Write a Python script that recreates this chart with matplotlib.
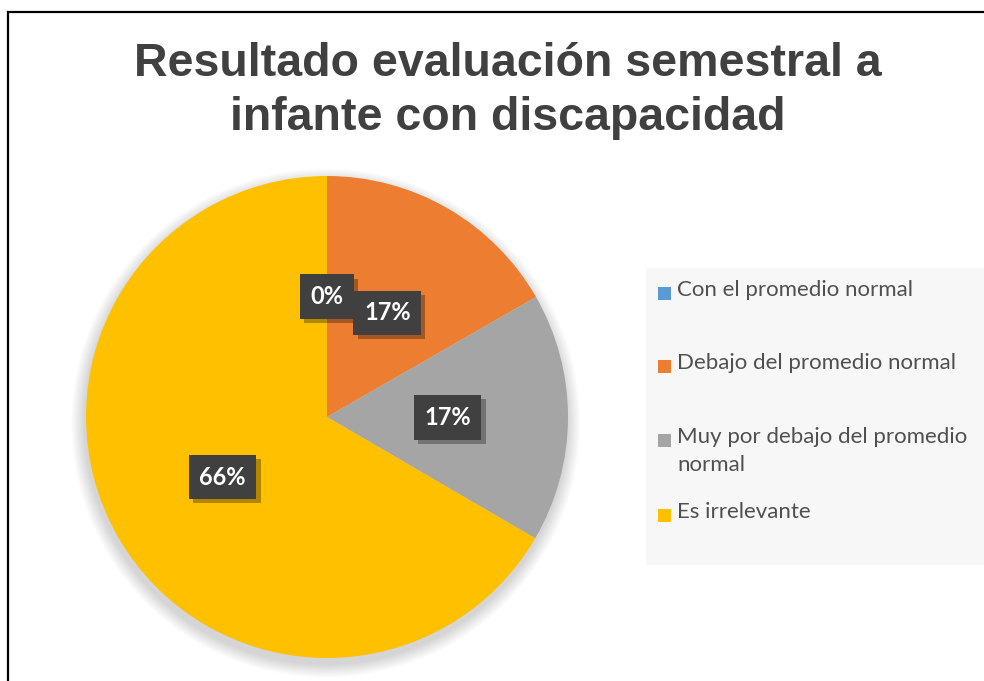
import matplotlib
matplotlib.use("Agg")
import matplotlib.pyplot as plt
from matplotlib.patches import Rectangle, Circle
import matplotlib.patheffects as pe

categories = ["Con el promedio normal", "Debajo del promedio normal",
              "Muy por debajo del promedio\nnormal", "Es irrelevante"]
values = [0, 16.7, 16.7, 66.6]
labels = ["0%", "17%", "17%", "66%"]
colors = ["#5B9BD5", "#ED7D31", "#A5A5A5", "#FFC000"]
title = "Resultado evaluación semestral a\ninfante con discapacidad"

W, H = 984, 681
fig = plt.figure(figsize=(W / 100, H / 100), dpi=100)
fig.patch.set_facecolor("white")

def fx(px):
    return px / W

def fy(py):
    return 1 - py / H

# outer frame (extends past right/bottom edges)
fig.patches.append(Rectangle((fx(8), fy(700)), fx(1100), (700 - 12) / H,
                             transform=fig.transFigure, fill=False,
                             edgecolor="black", linewidth=1.6))

# title
fig.text(fx(508), fy(91), title, ha="center", va="center",
         fontsize=33.5, fontweight="bold", family="Liberation Sans",
         color="#404040", linespacing=1.32)

# pie axes
cx, cy, r = 327, 417, 241
ax = fig.add_axes([fx(cx - r), fy(cy + r), 2 * r / W, 2 * r / H])

# soft shadow
n = 14
for i in range(n):
    ax.add_patch(Circle((-0.005, -0.025), 1.0 + 0.004 * (n - i), color="black",
                        alpha=0.012, linewidth=0, clip_on=False, zorder=0))

wedges, texts, autotexts = ax.pie(
    values, colors=colors, startangle=90, counterclock=False, radius=1,
    autopct="%1.0f%%", pctdistance=0.5,
    wedgeprops=dict(linewidth=0),
    textprops=dict(color="white", fontsize=17, fontweight="bold", family="Lato"))
ax.set_xlim(-1, 1)
ax.set_ylim(-1, 1)
ax.set_aspect("equal")
ax.axis("off")
for w in wedges:
    w.set_zorder(2)
for t, lab in zip(autotexts, labels):
    t.set_text(lab)
    t.set_zorder(5)
    t.set_bbox(dict(boxstyle="square,pad=0.45", facecolor="#404040", edgecolor="none"))
    t.get_bbox_patch().set_path_effects([
        pe.SimplePatchShadow(offset=(3, -3), shadow_rgbFace="black", alpha=0.3),
        pe.Normal()])

# legend area
lx0, ly0, lx1, ly1 = 646, 268, 990, 565
fig.patches.append(Rectangle((fx(lx0), fy(ly1)), fx(lx1 - lx0), (ly1 - ly0) / H,
                             transform=fig.transFigure, facecolor="#F7F7F7",
                             edgecolor="none", zorder=0))
ys = [293, 366, 440, 515]
for cat, col, y in zip(categories, colors, ys):
    fig.patches.append(Rectangle((fx(658), fy(y + 7)), fx(13), 13 / H,
                                 transform=fig.transFigure, facecolor=col,
                                 edgecolor="none", zorder=2))
    fig.text(fx(677), fy(y - 13), cat, ha="left", va="top", fontsize=16,
             family="Lato", color="#505050", linespacing=1.5)

fig.savefig("out.png", dpi=100, facecolor="white")
